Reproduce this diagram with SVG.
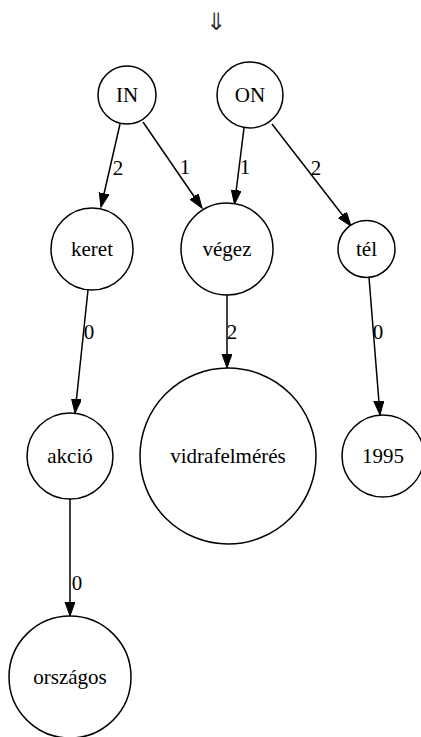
<svg xmlns="http://www.w3.org/2000/svg" width="421" height="737" viewBox="0 0 421 737">
<style>
.node circle{fill:#fff;stroke:#000;stroke-width:1.5}
.edge{stroke:#000;stroke-width:1.5;fill:none;marker-end:url(#arr)}
</style>
<defs>
<marker id="arr" markerUnits="userSpaceOnUse" markerWidth="15" markerHeight="11" refX="14" refY="5" orient="auto"><path d="M0,0 L14,5 L0,10 z" fill="#000" stroke="#000" stroke-width="1"/></marker>
</defs>
<rect width="421" height="737" fill="#fff"/>
<text x="216" y="30" font-family="DejaVu Sans,sans-serif" font-size="24" text-anchor="middle" fill="#333">⇓</text>
<g font-family="Liberation Serif, serif" font-size="21" text-anchor="middle" fill="#000">
<g id="connectors">
<path class="edge" d="M120,124 L101,207"/>
<path class="edge" d="M143,122 L202,208"/>
<path class="edge" d="M244,128 L234.5,204"/>
<path class="edge" d="M272,124 L351,226"/>
<path class="edge" d="M88,290 L75,413"/>
<path class="edge" d="M227,295 L227,368"/>
<path class="edge" d="M369,277.5 L380,415"/>
<path class="edge" d="M70,499 L70,616"/>
<text x="118" y="175">2</text>
<text x="185" y="174">1</text>
<text x="245" y="174">1</text>
<text x="316" y="175">2</text>
<text x="89" y="339">0</text>
<text x="232" y="339">2</text>
<text x="378" y="339">0</text>
<text x="77" y="590">0</text>
</g>
<g id="IN" class="node"><circle cx="127" cy="95" r="29"/><text x="127" y="102">IN</text></g>
<g id="ON" class="node"><circle cx="250" cy="95" r="33"/><text x="250" y="102">ON</text></g>
<g id="keret" class="node"><circle cx="92" cy="249" r="41"/><text x="92" y="256">keret</text></g>
<g id="vegez" class="node"><circle cx="227" cy="249" r="46"/><text x="227" y="256">végez</text></g>
<g id="tel" class="node"><circle cx="366.5" cy="249" r="28.5"/><text x="366.5" y="256">tél</text></g>
<g id="akcio" class="node"><circle cx="70" cy="456" r="43"/><text x="70" y="463">akció</text></g>
<g id="vidrafelmeres" class="node"><circle cx="228" cy="456" r="88"/><text x="228" y="463">vidrafelmérés</text></g>
<g id="n1995" class="node"><circle cx="383" cy="456" r="41"/><text x="383" y="463">1995</text></g>
<g id="orszagos" class="node"><circle cx="70" cy="677" r="61"/><text x="70" y="684">országos</text></g>
</g>
</svg>
